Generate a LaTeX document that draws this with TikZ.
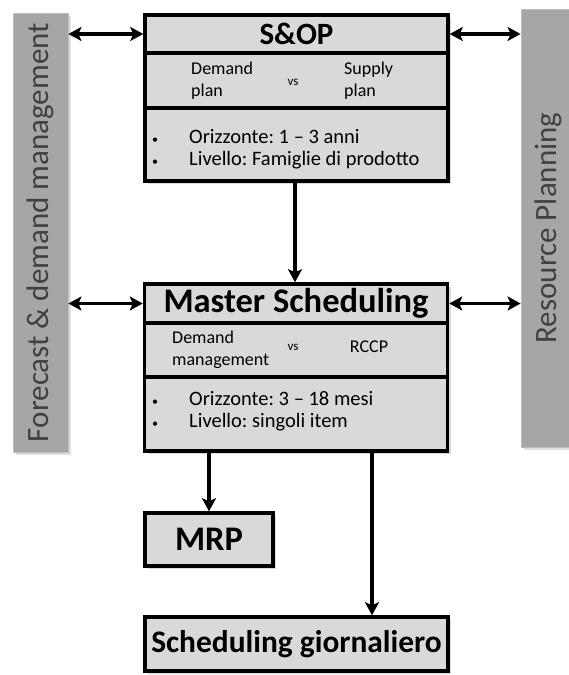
\documentclass[tikz,border=0pt]{standalone}
\usepackage{fontspec}
\setmainfont{Carlito}
\usetikzlibrary{positioning,shadows,arrows.meta}

\definecolor{boxgray}{RGB}{217,217,217}
\definecolor{bargray}{RGB}{166,166,166}
\definecolor{barline}{RGB}{190,190,190}
\definecolor{bartext}{RGB}{64,64,64}

\newcommand{\pallino}{\makebox[38pt][l]{\hspace{1pt}{\fontsize{12}{12}\selectfont\textbullet}}}

\begin{document}
\frenchspacing
\begin{tikzpicture}[x=1pt,y=-1pt,
    row/.style={draw, line width=3.5pt, fill=boxgray, minimum width=303pt, inner sep=0pt,
        drop shadow={opacity=0.3,shadow xshift=3pt,shadow yshift=-3pt}},
    bar/.style={draw=barline, line width=0.8pt, fill=bargray, minimum width=55pt, inner sep=0pt,
        drop shadow={opacity=0.25,shadow xshift=3pt,shadow yshift=-3pt}},
    titolo/.style={font=\fontsize{31}{31}\selectfont\bfseries},
    grande/.style={font=\fontsize{34.5}{34.5}\selectfont\bfseries},
    voce/.style={inner sep=0pt, align=left, font=\fontsize{18}{22}\selectfont},
    vs/.style={inner sep=0pt, font=\fontsize{13}{13}\selectfont},
    lista/.style={inner sep=0pt, align=left, font=\fontsize{20.5}{22.5}\selectfont},
    lato/.style={inner sep=0pt, rotate=90, text=bartext, font=\fontsize{31}{31}\selectfont},
    freccia/.style={line width=3.8pt, -{Stealth[length=13pt,width=14pt,inset=3pt]}},
    doppia/.style={line width=3.8pt, {Stealth[length=13pt,width=14pt,inset=3pt]}-{Stealth[length=13pt,width=14pt,inset=3pt]}}]

    \useasboundingbox (0,0) rectangle (569,675);

    % 侧栏
    \node[bar, minimum height=439pt] (fcst) at (40.5,232.5) {};
    \node[lato] (fcsttxt) at (fcst) {Forecast \& demand management};
    \node[bar, minimum height=438pt] (rp) at (548.5,228) {};
    \node[lato] (rptxt) at (rp) {Resource Planning};

    % S&OP
    \node[row, minimum height=38pt, titolo] (soptitle) at (296.5,34) {S\&OP};
    \node[row, minimum height=55pt] (sopmid) at (296.5,80.5) {};
    \node[row, minimum height=73pt] (sopbul) at (296.5,144.5) {};
    \node[voce, anchor=west] (sopdem) at (191,80.5) {Demand\\plan};
    \node[vs] (sopvs) at (293,82) {vs};
    \node[voce, anchor=west] (sopsup) at (344,80.5) {Supply\\plan};
    \node[lista, anchor=west] (soplist) at (151,149)
        {\pallino Orizzonte: 1 – 3 anni\\
         \pallino Livello: Famiglie di prodotto};

    % Master Scheduling
    \node[row, minimum height=39pt, grande] (mstitle) at (296,303.5) {Master Scheduling};
    \node[row, minimum height=54pt] (msmid) at (296,350) {};
    \node[row, minimum height=74pt] (msbul) at (296,414) {};
    \node[voce, anchor=west] (msdem) at (172,350) {Demand\\management};
    \node[vs] (msvs) at (293,347) {vs};
    \node[voce] (msrccp) at (369,347) {RCCP};
    \node[lista, anchor=west] (mslist) at (151,411)
        {\pallino Orizzonte: 3 – 18 mesi\\
         \pallino Livello: singoli item};

    % 下方
    \node[row, minimum width=128pt, minimum height=53pt, grande] (mrp) at (209,539.5) {MRP};
    \node[row, minimum height=54pt, font=\fontsize{31.4}{31.4}\selectfont\bfseries] (sg) at (296.5,644) {Scheduling giornaliero};
    \coordinate (sgin) at ([xshift=75.5pt]sg.north);

    % 箭头
    \draw[doppia] (fcst.east |- soptitle.west) -- (soptitle.west);
    \draw[doppia] (soptitle.east) -- (rp.west |- soptitle.east);
    \draw[doppia] (fcst.east |- mstitle.west) -- (mstitle.west);
    \draw[doppia] (mstitle.east) -- (rp.west |- mstitle.east);
    \draw[freccia] (sopbul.south -| 295,0) -- (mstitle.north -| 295,0);
    \draw[freccia] (mrp.north |- msbul.south) -- (mrp.north);
    \draw[freccia] (sgin |- msbul.south) -- (sgin);
\end{tikzpicture}
\end{document}
